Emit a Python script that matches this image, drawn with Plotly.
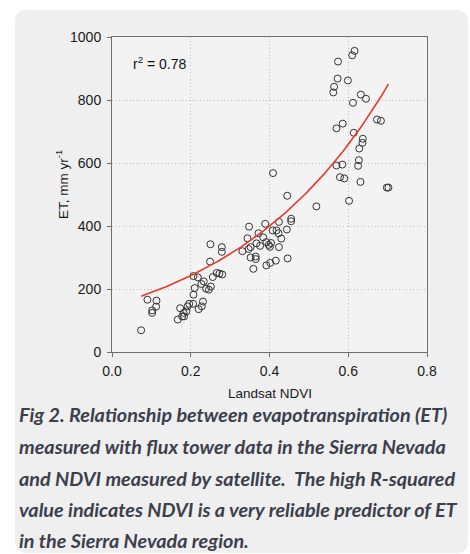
import numpy as np
import plotly.graph_objects as go

# ---- data ----
ndvi = [0.074, 0.090, 0.113, 0.112, 0.102, 0.102, 0.167, 0.173, 0.183, 0.182,
        0.189, 0.192, 0.196, 0.206, 0.207, 0.210, 0.207, 0.218, 0.220, 0.228,
        0.231, 0.227, 0.233, 0.239, 0.246, 0.251, 0.249, 0.250, 0.256, 0.266,
        0.273, 0.280, 0.279, 0.279,
        0.331, 0.344, 0.348, 0.347, 0.352, 0.352, 0.359, 0.365, 0.365, 0.367,
        0.372, 0.376, 0.384, 0.389, 0.392, 0.392, 0.398, 0.401, 0.404, 0.402,
        0.408, 0.418, 0.416, 0.423, 0.424, 0.424, 0.430, 0.444, 0.446, 0.455,
        0.455, 0.409, 0.445, 0.519,
        0.616, 0.610, 0.574, 0.573, 0.599, 0.564, 0.562, 0.632, 0.645, 0.612,
        0.673, 0.683, 0.586, 0.570, 0.614, 0.637, 0.636, 0.628, 0.627, 0.625,
        0.570, 0.585, 0.579, 0.590, 0.631, 0.698, 0.702, 0.602, 0.178]
et = [69, 166, 163, 144, 132, 124, 103, 139, 113, 124,
      129, 145, 153, 153, 182, 203, 241, 237, 136, 145,
      160, 216, 224, 201, 198, 208, 287, 342, 238, 251,
      249, 246, 333, 318,
      320, 361, 398, 327, 333, 300, 264, 303, 295, 345,
      377, 337, 364, 407, 349, 275, 340, 334, 346, 283,
      386, 386, 290, 377, 413, 333, 360, 389, 297, 423,
      415, 568, 496, 462,
      956, 942, 922, 868, 862, 842, 824, 817, 804, 791,
      738, 734, 725, 710, 696, 677, 664, 646, 609, 591,
      592, 595, 555, 551, 540, 522, 522, 480, 113]

# exponential fit shown in the reference: ET = a * exp(b * NDVI)
fit_a = 147.0
fit_b = 2.5
fit_x_min, fit_x_max = 0.074, 0.702

x_ticks = [0.0, 0.2, 0.4, 0.6, 0.8]
y_ticks = [0, 200, 400, 600, 800, 1000]

caption_lines = [
    "Fig 2. Relationship between evapotranspiration (ET)",
    "measured with flux tower data in the Sierra Nevada",
    "and NDVI measured by satellite.  The high R-squared",
    "value indicates NDVI is a very reliable predictor of ET",
    "in the Sierra Nevada region.",
]

fx = np.linspace(fit_x_min, fit_x_max, 120)
fy = fit_a * np.exp(fit_b * fx)

fig = go.Figure()
fig.add_trace(go.Scatter(x=ndvi, y=et, mode="markers",
                         marker=dict(symbol="circle-open", size=7, color="#333333",
                                     line=dict(width=1)),
                         showlegend=False, hoverinfo="skip"))
fig.add_trace(go.Scatter(x=fx, y=fy, mode="lines",
                         line=dict(color="#e8392f", width=1.6),
                         showlegend=False, hoverinfo="skip"))

W, H = 470, 554
L, R, T, B = 112, 43, 37, 202
PW = W - L - R  # 315
PH = H - T - B  # 315


def px2x(px):
    return (px - L) / PW


def py2y(py):
    return (H - B - py) / PH


# rounded panel
x0, x1 = px2x(15), px2x(468)
y0, y1 = py2y(553), py2y(10)
rr = 12 / PW
path = (f"M {x0+rr},{y1} L {x1-rr},{y1} Q {x1},{y1} {x1},{y1-rr} "
        f"L {x1},{y0+rr} Q {x1},{y0} {x1-rr},{y0} L {x0+rr},{y0} "
        f"Q {x0},{y0} {x0},{y0+rr} L {x0},{y1-rr} Q {x0},{y1} {x0+rr},{y1} Z")
fig.add_shape(type="path", path=path, xref="paper", yref="paper",
              fillcolor="#efefef", line=dict(width=0), layer="below")
fig.add_shape(type="rect", x0=0, x1=1, y0=0, y1=1, xref="paper", yref="paper",
              fillcolor="#f3f3f3", line=dict(width=0), layer="below")

tickfont = dict(family="Liberation Sans, Arial, sans-serif", size=14, color="#1a1a1a")
axis_common = dict(showline=True, mirror=True, linecolor="#6e6e6e", linewidth=1,
                   ticks="outside", ticklen=4, tickcolor="#6e6e6e",
                   showgrid=True, gridcolor="#bdbdbd", griddash="1px,2.5px", gridwidth=1,
                   zeroline=False, tickfont=tickfont)
fig.update_xaxes(range=[0, 0.8], tickvals=x_ticks, tickformat=".1f",
                 ticklabelstandoff=2, **axis_common)
fig.update_yaxes(range=[0, 1000], tickvals=y_ticks, ticklabelstandoff=3, **axis_common)

ann = []
ann.append(dict(text="Landsat NDVI", x=0.5, y=py2y(393), xref="paper", yref="paper",
                showarrow=False, xanchor="center", yanchor="middle",
                font=dict(family="Liberation Sans, Arial, sans-serif", size=13.5, color="#1a1a1a")))
ann.append(dict(text="ET, mm yr<sup>-1</sup>", x=px2x(62), y=py2y(185), xref="paper", yref="paper",
                showarrow=False, xanchor="center", yanchor="middle", textangle=-90,
                font=dict(family="Liberation Sans, Arial, sans-serif", size=13.5, color="#1a1a1a")))
ann.append(dict(text="r<sup>2</sup> = 0.78", x=px2x(131), y=py2y(63), xref="paper", yref="paper",
                showarrow=False, xanchor="left", yanchor="middle",
                font=dict(family="Liberation Sans, Arial, sans-serif", size=14, color="#111111")))
cap_y = [414, 446, 478, 509, 540]
for line, cy in zip(caption_lines, cap_y):
    ann.append(dict(text=line, x=px2x(17), y=py2y(cy), xref="paper", yref="paper",
                    showarrow=False, xanchor="left", yanchor="middle",
                    font=dict(family="Lato, sans-serif", size=19.8, color="#3c404c",
                              weight="bold", style="italic")))

fig.update_layout(width=W, height=H, margin=dict(l=L, r=R, t=T, b=B),
                  paper_bgcolor="white", plot_bgcolor="rgba(0,0,0,0)",
                  annotations=ann, showlegend=False)

fig.write_html("out.html", config={"displayModeBar": False},
               post_script="document.body.style.margin='0';"
                           "document.body.style.overflow='hidden';")
